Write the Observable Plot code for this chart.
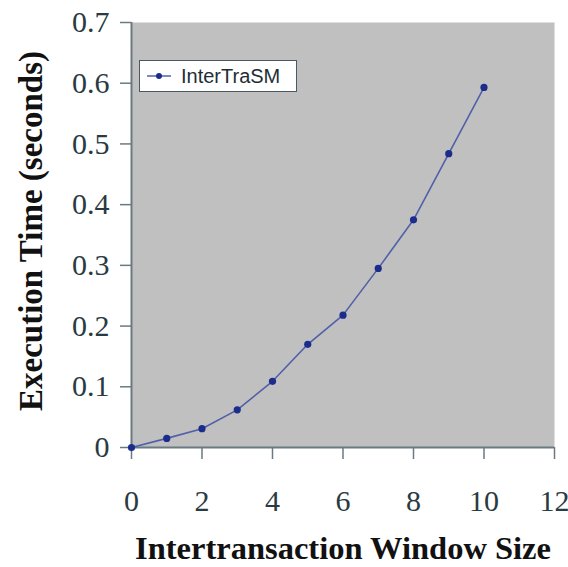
<!DOCTYPE html>
<html>
<head>
<meta charset="utf-8">
<script src="https://cdn.jsdelivr.net/npm/d3@7"></script>
<script src="https://cdn.jsdelivr.net/npm/@observablehq/plot@0.6"></script>
<style>
  html, body { margin: 0; padding: 0; background: #ffffff; }
  #wrap { position: relative; width: 568px; height: 567px; }
  #legend {
    position: absolute; left: 139px; top: 60px; width: 158px; height: 32px;
    background: #ffffff; border: 1.5px solid #4a5a60; box-sizing: border-box;
    display: flex; align-items: center;
    font-family: "Liberation Sans", Arial, sans-serif; font-size: 20px; color: #1e2e36;
  }
  #legend svg { margin-left: 7px; margin-right: 10px; }
</style>
</head>
<body>
<div id="wrap"></div>
<script>
const windowSize = [0, 1, 2, 3, 4, 5, 6, 7, 8, 9, 10];
const execTime = [0, 0.015, 0.031, 0.062, 0.109, 0.170, 0.218, 0.295, 0.375, 0.484, 0.593];
const xTicks = [0, 2, 4, 6, 8, 10, 12];
const yTicks = [0, 0.1, 0.2, 0.3, 0.4, 0.5, 0.6, 0.7];
const seriesName = "InterTraSM";
const xTitle = "Intertransaction Window Size";
const yTitle = "Execution Time (seconds)";

const data = windowSize.map((x, i) => ({x, y: execTime[i]}));

const lineColor = "#5060a8";
const dotColor = "#1c2c8c";
const axisColor = "#6a7a82";
const tickTextColor = "#2a3a42";

const chart = Plot.plot({
  width: 568,
  height: 567,
  marginLeft: 131,
  marginRight: 14,
  marginTop: 22,
  marginBottom: 120,
  style: {background: "#ffffff", fontFamily: "'Liberation Serif', 'Times New Roman', serif"},
  x: {domain: [0, 12]},
  y: {domain: [0, 0.7]},
  marks: [
    Plot.frame({fill: "#c0c0c0", stroke: "none"}),
    Plot.axisX({
      ticks: xTicks, tickSize: 12, tickPadding: 30, stroke: axisColor,
      strokeWidth: 1.5,
      fontSize: 30, fill: tickTextColor,
      tickFormat: d => String(d),
      label: null
    }),
    Plot.axisY({
      ticks: yTicks, tickSize: 11, tickPadding: 11, stroke: axisColor,
      strokeWidth: 1.5,
      fontSize: 30, fill: tickTextColor,
      tickFormat: d => String(+d.toFixed(1)),
      label: null
    }),
    Plot.ruleX([0], {stroke: axisColor, strokeWidth: 2}),
    Plot.ruleY([0], {stroke: axisColor, strokeWidth: 2}),
    Plot.text([xTitle], {
      frameAnchor: "bottom", dy: 111, fontSize: 32.5, fontWeight: "bold",
      fill: "#111111", textAnchor: "middle", lineAnchor: "bottom"
    }),
    Plot.text([yTitle], {
      frameAnchor: "left", dx: -113, dy: -4, rotate: -90, fontSize: 33, fontWeight: "bold",
      fill: "#111111", textAnchor: "middle", lineAnchor: "top"
    }),
    Plot.line(data, {x: "x", y: "y", stroke: lineColor, strokeWidth: 1.6}),
    Plot.dot(data, {x: "x", y: "y", r: 3.6, fill: dotColor, stroke: "none"})
  ]
});

const wrap = document.getElementById("wrap");
wrap.appendChild(chart);

const legend = document.createElement("div");
legend.id = "legend";
legend.innerHTML = `<svg width="24" height="10"><line x1="0" y1="5" x2="24" y2="5" stroke="${lineColor}" stroke-width="1.5"/><circle cx="12" cy="5" r="3" fill="${dotColor}"/></svg><span>${seriesName}</span>`;
wrap.appendChild(legend);
</script>
</body>
</html>
